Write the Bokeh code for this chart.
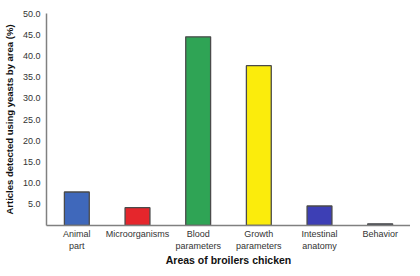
from bokeh.plotting import figure
from bokeh.models import Range1d, FixedTicker, NumeralTickFormatter, ColumnDataSource
from bokeh.embed import file_html
from bokeh.resources import INLINE

categories = ["Animal\npart", "Microorganisms", "Blood\nparameters", "Growth\nparameters", "Intestinal\nanatomy", "Behavior"]
values = [7.9, 4.2, 44.5, 37.7, 4.6, 0.4]
colors = ["#3f68bb", "#e5262c", "#2fa455", "#fbec0c", "#3d3fb5", "#4f5d78"]
y_ticks = [5, 10, 15, 20, 25, 30, 35, 40, 45, 50]

src = ColumnDataSource(dict(cat=categories, val=values, col=colors))

p = figure(x_range=categories, y_range=Range1d(0, 50), width=410, height=268,
           output_backend="svg", toolbar_location=None,
           min_border_left=40, min_border_right=0, min_border_top=13, min_border_bottom=20)
p.vbar(x="cat", top="val", width=0.41, fill_color="col", line_color="#4a4a4a", line_width=1.3, source=src)

p.outline_line_color = None
p.xgrid.grid_line_color = None
p.ygrid.grid_line_color = None
p.background_fill_color = "white"

for ax in (p.xaxis, p.yaxis):
    ax.axis_line_color = "#808080"
    ax.axis_line_width = 1.5
    ax.major_tick_line_color = None
    ax.minor_tick_line_color = None
    ax.major_tick_out = 0
    ax.major_tick_in = 0
    ax.minor_tick_out = 0
    ax.major_label_text_font = "Liberation Sans"
    ax.major_label_text_font_size = "9px"
    ax.major_label_text_color = "#333333"
    ax.axis_label_text_font = "Liberation Sans"
    ax.axis_label_text_font_style = "bold"
    ax.axis_label_text_color = "#111111"

p.yaxis.ticker = FixedTicker(ticks=y_ticks)
p.yaxis.formatter = NumeralTickFormatter(format="0.0")
p.yaxis.axis_label = "Articles detected using yeasts by area (%)"
p.yaxis.axis_label_text_font_size = "9.5px"
p.yaxis.major_label_standoff = 6
p.yaxis.axis_label_standoff = 5
p.xaxis.axis_label = "Areas of broilers chicken"
p.xaxis.axis_label_text_font_size = "10.5px"
p.xaxis.major_label_standoff = 3
p.xaxis.axis_label_standoff = 0

open("out.html", "w").write(file_html(p, INLINE))
